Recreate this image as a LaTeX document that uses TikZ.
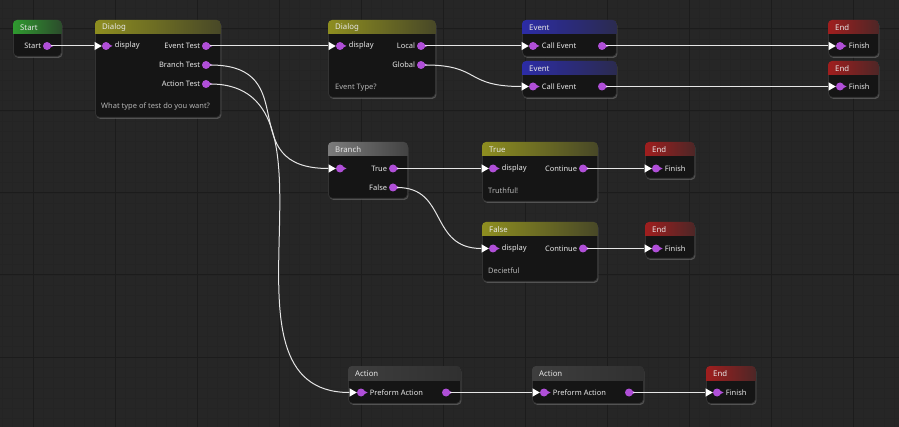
\documentclass[tikz,border=0pt]{standalone}
\usepackage{fontspec}
\setmainfont{Noto Sans}
\usetikzlibrary{shapes.geometric,shadows}

\definecolor{canvas}{HTML}{262626}
\definecolor{gridmajor}{HTML}{1C1C1C}
\definecolor{gridminor}{HTML}{242424}
\definecolor{bodyfill}{HTML}{151515}
\definecolor{bodyrim}{HTML}{333333}
\definecolor{hddark}{HTML}{2A2A2A}
\definecolor{pinpurple}{HTML}{B04FD8}
\definecolor{wirecol}{HTML}{E6E6E6}
\definecolor{labelcol}{HTML}{E8E8E8}
\definecolor{desccol}{HTML}{B4B4B4}
\definecolor{hdstart}{HTML}{2F9A2F}
\definecolor{hddialog}{HTML}{8E8E20}
\definecolor{hdevent}{HTML}{2C2CA6}
\definecolor{hdend}{HTML}{A01E1E}
\definecolor{hdbranch}{HTML}{7C7C7C}
\definecolor{hdaction}{HTML}{3E3E3E}

\tikzset{
  wire/.style={draw=wirecol, line width=1pt},
  nodebody/.style={draw=bodyrim, fill=bodyfill, rounded corners=4pt, line width=0.8pt,
    inner sep=0pt, drop shadow={shadow xshift=1pt, shadow yshift=-1.5pt, opacity=0.5}},
  nodetitle/.style={text=labelcol, font=\fontsize{7.8}{9}\selectfont, anchor=west, inner sep=0pt},
  datapin/.style={circle, fill=pinpurple, minimum size=8pt, inner sep=0pt},
  execpin/.style={regular polygon, regular polygon sides=3, shape border rotate=-90,
    fill=white, minimum size=9.5pt, inner sep=0pt},
  pintext/.style={text=labelcol, font=\fontsize{7.5}{9}\selectfont, inner sep=1.5pt},
  desc/.style={text=desccol, font=\fontsize{7.5}{9}\selectfont, anchor=west, inner sep=0pt},
}

% name, x, y, width, height, header colour, title
\newcommand\bpnode[7]{%
  \node[nodebody, minimum width=#4pt, minimum height=#5pt, anchor=north west] (#1) at (#2,#3) {};
  \begin{scope}
    \clip[rounded corners=4pt] (#1.north west) rectangle (#1.south east);
    \shade[left color=#6, right color=#6!30!hddark] (#1.north west) rectangle ([yshift=-14pt]#1.north east);
  \end{scope}
  \node[nodetitle] (#1-title) at ([xshift=7pt,yshift=-7.5pt]#1.north west) {#7};
}
\newcommand\pinnub[1]{%
  \fill[pinpurple] ([xshift=2.5pt,yshift=2pt]#1.center) -- ([xshift=6.5pt]#1.center)
    -- ([xshift=2.5pt,yshift=-2pt]#1.center) -- cycle;
}
% name, x, y, label
\newcommand\inpin[4]{%
  \node[execpin] (#1x) at (#2,#3) {};
  \node[datapin, label={[pintext, xshift=3pt]right:#4}] (#1) at (#2+9,#3) {};
  \pinnub{#1}
}
\newcommand\outpin[4]{%
  \node[datapin, label={[pintext]left:#4}] (#1) at (#2,#3) {};
  \pinnub{#1}
}

\begin{document}
\begin{tikzpicture}[x=1pt,y=-1pt]
  \useasboundingbox (0,0) rectangle (899,427);
  \fill[canvas] (0,0) rectangle (899,427);

  % grid
  \foreach \m in {0,...,87}
    \draw[gridminor, line width=0.5pt] (2.25+10.25*\m,0) -- (2.25+10.25*\m,427);
  \foreach \m in {0,...,40}
    \draw[gridminor, line width=0.5pt] (0,8.5+10.25*\m) -- (899,8.5+10.25*\m);
  \foreach \k in {0,...,10}
    \draw[gridmajor, line width=1pt] (33+82*\k,0) -- (33+82*\k,427);
  \foreach \k in {0,...,4}
    \draw[gridmajor, line width=1pt] (0,29+82*\k) -- (899,29+82*\k);

  % top row
  \bpnode{start}{13}{20}{48}{36}{hdstart}{Start}
  \outpin{st-o}{47}{46}{Start}

  \bpnode{dlg1}{95}{20}{125}{97}{hddialog}{Dialog}
  \inpin{d1-i}{97}{46}{display}
  \outpin{d1-ev}{206}{46}{Event Test}
  \outpin{d1-br}{206}{65}{Branch Test}
  \outpin{d1-ac}{206}{84}{Action Test}
  \node[desc] (d1-desc) at (101,106.5) {What type of test do you want?};

  \bpnode{dlg2}{328}{20}{107}{77}{hddialog}{Dialog}
  \inpin{d2-i}{331}{46}{display}
  \outpin{d2-lo}{421}{46}{Local}
  \outpin{d2-gl}{421}{65}{Global}
  \node[desc] (d2-desc) at (335,88) {Event Type?};

  \bpnode{evt1}{522}{20}{94}{36}{hdevent}{Event}
  \inpin{e1-i}{524}{46}{Call Event}
  \outpin{e1-o}{602}{46}{}

  \bpnode{evt2}{522}{61}{94}{36}{hdevent}{Event}
  \inpin{e2-i}{524}{86.5}{Call Event}
  \outpin{e2-o}{602}{86.5}{}

  \bpnode{end1}{828}{20}{50}{36}{hdend}{End}
  \inpin{n1-i}{831}{46}{Finish}
  \bpnode{end2}{828}{61}{50}{36}{hdend}{End}
  \inpin{n2-i}{831}{86.5}{Finish}

  % branch
  \bpnode{branch}{328}{142}{79}{56}{hdbranch}{Branch}
  \inpin{br-i}{331}{168.5}{}
  \outpin{br-t}{393}{168.5}{True}
  \outpin{br-f}{393}{187.5}{False}

  \bpnode{truenode}{482}{142}{115}{59}{hddialog}{True}
  \inpin{tr-i}{484}{168.5}{display}
  \outpin{tr-o}{583}{168.5}{Continue}
  \node[desc] (tr-desc) at (488,190.5) {Truthful!};

  \bpnode{end3}{645}{142}{49}{36}{hdend}{End}
  \inpin{n3-i}{647}{168.5}{Finish}

  \bpnode{falsenode}{482}{222}{115}{59}{hddialog}{False}
  \inpin{fa-i}{484}{248.5}{display}
  \outpin{fa-o}{583}{248.5}{Continue}
  \node[desc] (fa-desc) at (488,271) {Decietful};

  \bpnode{end4}{645}{222}{49}{36}{hdend}{End}
  \inpin{n4-i}{647}{248.5}{Finish}

  % action
  \bpnode{act1}{348}{366}{112}{37}{hdaction}{Action}
  \inpin{a1-i}{352}{392.5}{Preform Action}
  \outpin{a1-o}{446}{392.5}{}

  \bpnode{act2}{532}{366}{111}{37}{hdaction}{Action}
  \inpin{a2-i}{535}{392.5}{Preform Action}
  \outpin{a2-o}{629}{392.5}{}

  \bpnode{end5}{706}{366}{49}{37}{hdend}{End}
  \inpin{n5-i}{708}{392.5}{Finish}

  % wires
  \draw[wire] (st-o) -- (d1-ix);
  \draw[wire] (d1-ev) -- (d2-ix);
  \draw[wire] (d2-lo) -- (e1-ix);
  \draw[wire] (d2-gl) .. controls +(60,0) and +(-60,0) .. (e2-ix);
  \draw[wire] (e1-o) -- (n1-ix);
  \draw[wire] (e2-o) -- (n2-ix);

  \draw[wire] (d1-br) .. controls +(100,0) and +(-100,0) .. (br-ix);
  \draw[wire] (br-t) -- (tr-ix);
  \draw[wire] (br-f) .. controls +(55,0) and +(-55,0) .. (fa-ix);
  \draw[wire] (tr-o) -- (n3-ix);
  \draw[wire] (fa-o) -- (n4-ix);

  \draw[wire] (d1-ac) .. controls +(150,0) and +(-150,0) .. (a1-ix);
  \draw[wire] (a1-o) -- (a2-ix);
  \draw[wire] (a2-o) -- (n5-ix);
\end{tikzpicture}
\end{document}
